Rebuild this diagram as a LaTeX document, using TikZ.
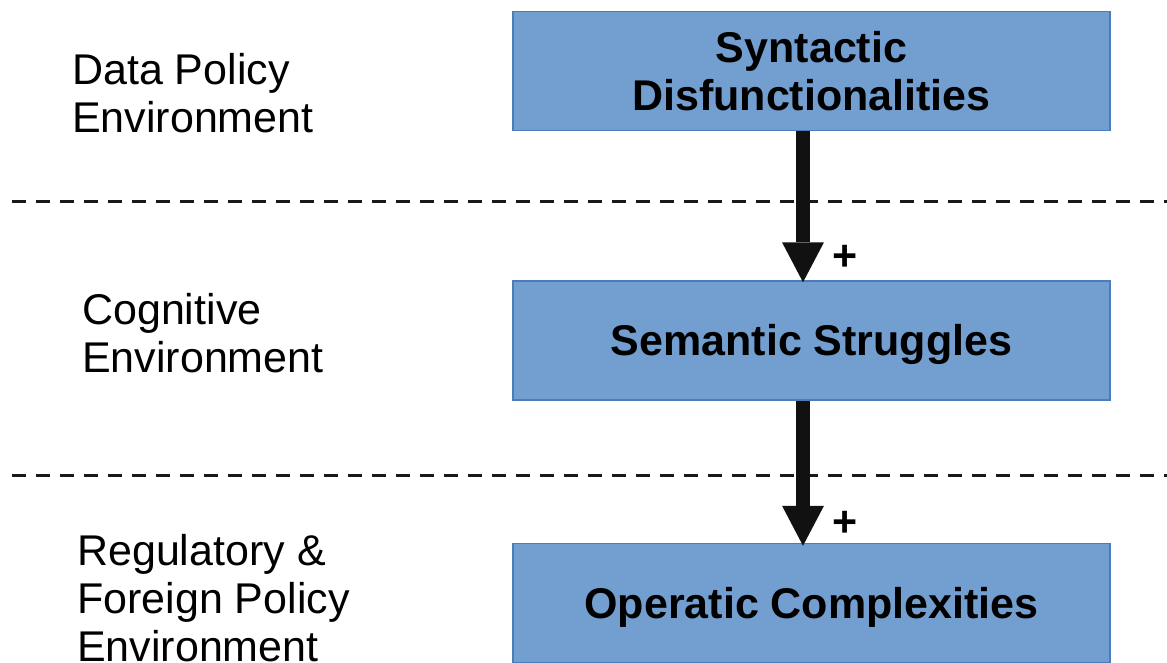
\documentclass[tikz,border=0pt]{standalone}
\usepackage{fontspec}
\setmainfont{Liberation Sans}
\usetikzlibrary{arrows.meta}
\definecolor{boxblue}{HTML}{729FCF}
\definecolor{boxedge}{HTML}{4A7EBB}
\definecolor{arrowblack}{HTML}{111111}
\def\bigfont{\fontsize{43}{48}\selectfont}

\begin{document}
\begin{tikzpicture}[x=1pt,y=-1pt,
	level/.style={draw=boxedge,fill=boxblue,line width=1.5pt,minimum width=597pt,minimum height=119pt,inner sep=0pt,font=\bigfont\bfseries,align=center},
	oneline/.style={text height=39pt,text depth=9pt},
	env/.style={anchor=north west,inner sep=0pt,font=\bigfont,align=left},
	flow/.style={draw=arrowblack,line width=14pt,-{Triangle[width=42pt,length=40pt,line width=0pt]}},
	plus/.style={inner sep=0pt,font=\bigfont\bfseries},
	divider/.style={line width=3pt,dash pattern=on 14pt off 10pt,draw=black!90}]
	\useasboundingbox (0,0) rectangle (1167,663);

	%DIVIDERS
	\coordinate (divAl) at (12,202);
	\coordinate (divAr) at (1167,202);
	\coordinate (divBl) at (12,475);
	\coordinate (divBr) at (1167,475);
	\draw[divider] (divAl)--(divAr);
	\draw[divider] (divBl)--(divBr);

	%LEVELS
	\node[level] (syn) at (811.5,71) {Syntactic\\Disfunctionalities};
	\node[level,oneline] (sem) at (811.5,340.5) {Semantic Struggles};
	\node[level,oneline] (ops) at (811.5,603) {Operatic Complexities};

	%ARROWS
	\coordinate (axis) at (803,0);
	\draw[flow] (syn.south -| axis)--([yshift=-2pt]sem.north -| axis);
	\draw[flow] (sem.south -| axis)--([yshift=-3pt]ops.north -| axis);
	\node[plus] (plusA) at (845,258) {+};
	\node[plus] (plusB) at (845,524) {+};

	%LABELS
	\node[env] (datapol) at (72,53) {Data Policy\\Environment};
	\node[env] (cogn) at (82,293) {Cognitive\\Environment};
	\node[env] (regfor) at (77,534) {Regulatory \&\\Foreign Policy\\Environment};
\end{tikzpicture}
\end{document}
